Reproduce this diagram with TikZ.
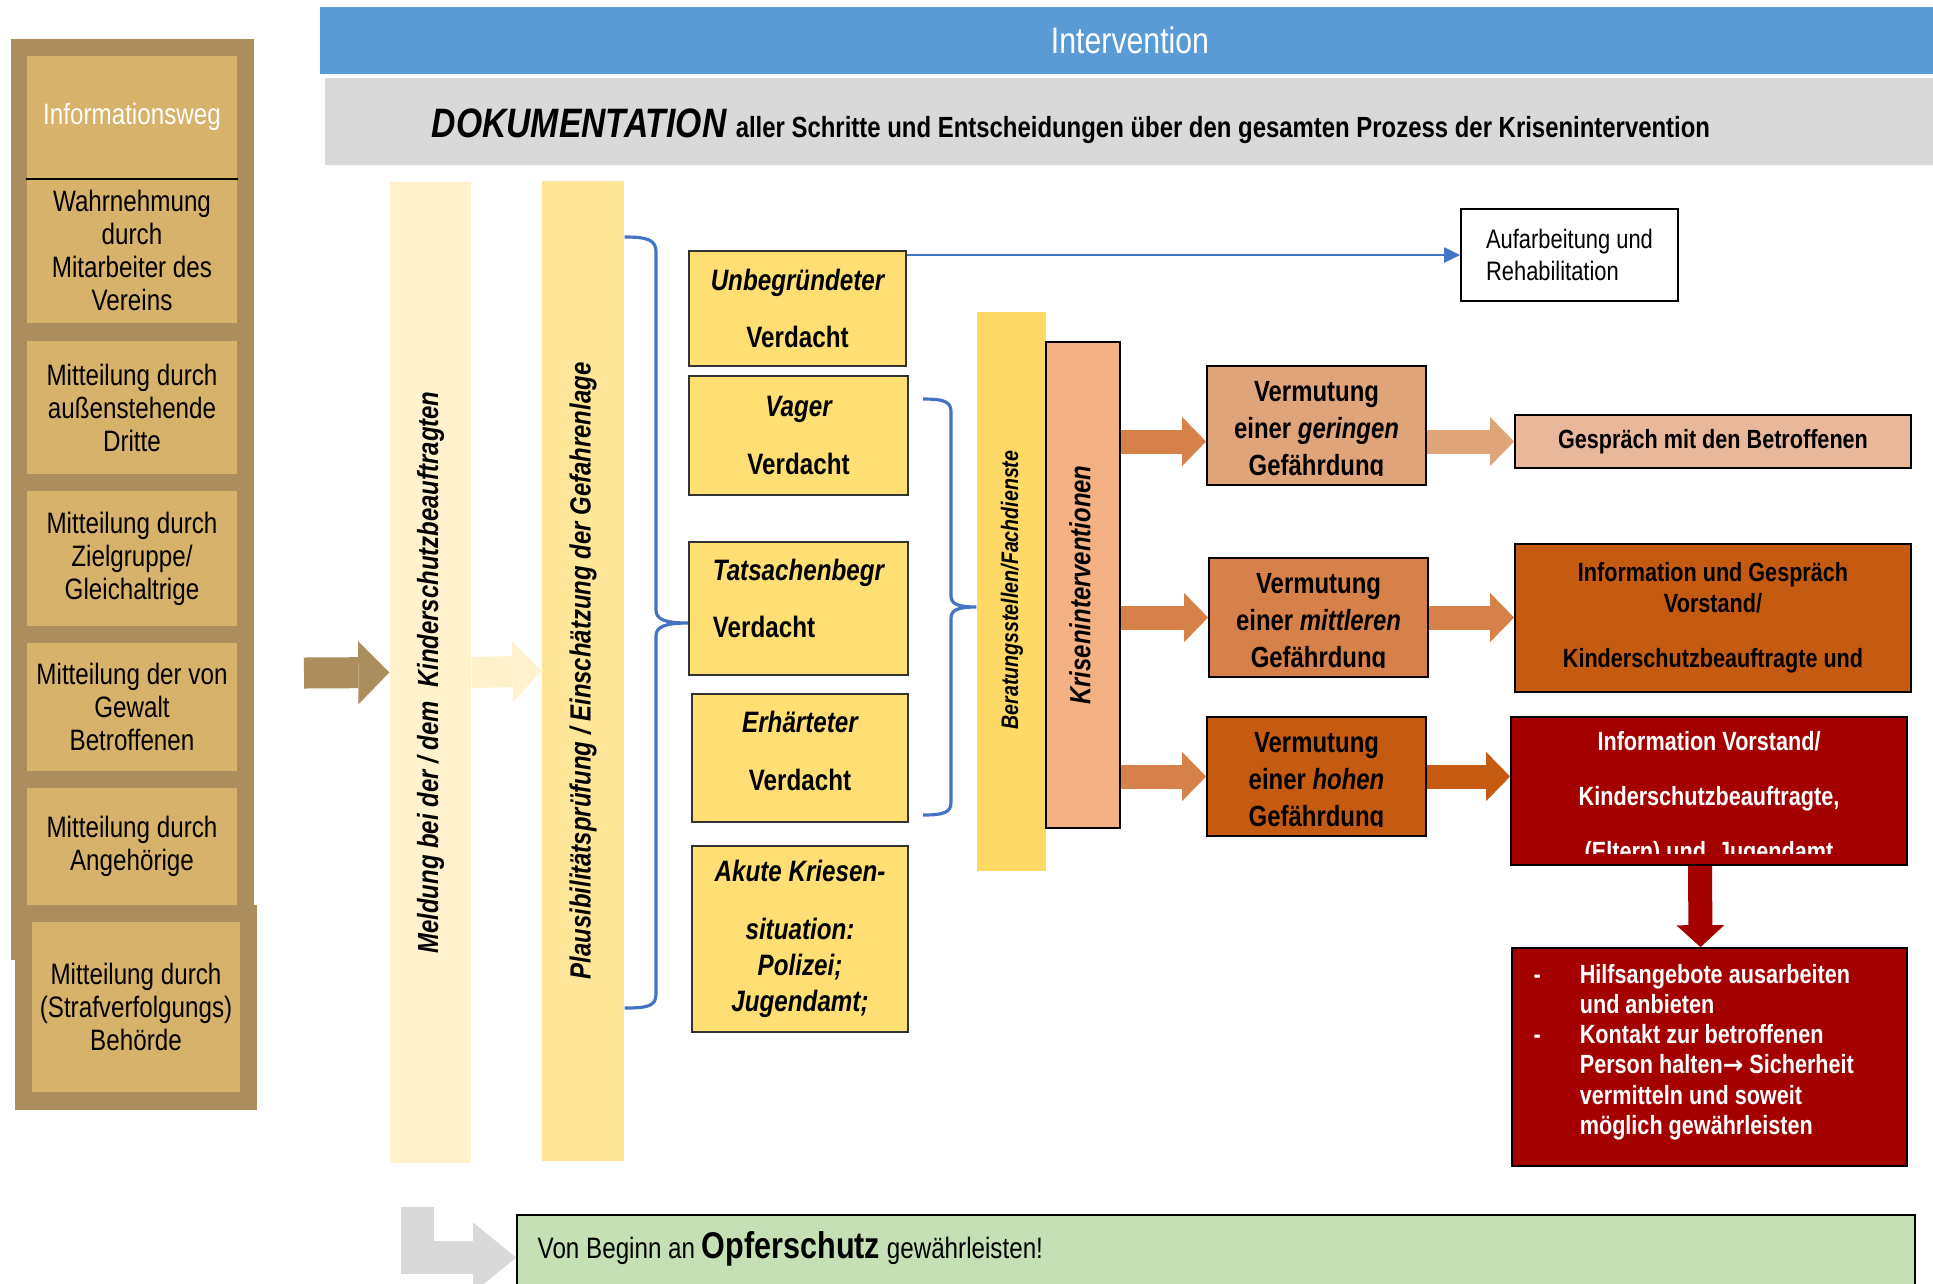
\documentclass[tikz,border=0pt]{standalone}
\usepackage{fontspec}
\setmainfont{Liberation Sans}[FakeStretch=0.82]
\newfontfamily\arrowfont{DejaVu Sans}
\usepackage{xcolor}
\usepackage{tikz}
\usetikzlibrary{arrows.meta}

\definecolor{framebrown}{RGB}{171,141,94}
\definecolor{boxtan}{RGB}{214,178,106}
\definecolor{headblue}{RGB}{91,155,213}
\definecolor{docgrey}{RGB}{217,217,217}
\definecolor{paleyellow}{RGB}{255,242,204}
\definecolor{lightyellow}{RGB}{255,230,153}
\definecolor{suspyellow}{RGB}{255,222,115}
\definecolor{beratyellow}{RGB}{255,217,102}
\definecolor{krisorange}{RGB}{244,177,131}
\definecolor{vermlight}{RGB}{224,164,122}
\definecolor{vermmid}{RGB}{214,128,74}
\definecolor{vermdark}{RGB}{197,90,17}
\definecolor{gesprlight}{RGB}{233,184,154}
\definecolor{darkred}{RGB}{165,0,0}
\definecolor{braceblue}{RGB}{68,114,196}
\definecolor{opfergreen}{RGB}{197,224,180}
\definecolor{arrowgrey}{RGB}{217,217,217}

\newcommand{\srcfont}{\fontsize{8.4}{9.4}\selectfont}
\newcommand{\colfont}{\fontsize{8.3}{10}\selectfont\bfseries\itshape}
\newcommand{\suspfont}{\fontsize{8.4}{10.2}\selectfont\bfseries\itshape}
\newcommand{\vermfont}{\fontsize{8.3}{10.4}\selectfont\bfseries}
\newcommand{\resfont}{\fontsize{7.5}{8.8}\selectfont\bfseries}

\tikzset{
    srcbox/.style={fill=boxtan, inner sep=0pt, align=center, font=\srcfont, minimum width=21mm},
    stripe/.style={inner sep=0pt, minimum width=8.1mm, minimum height=98.1mm},
    stripetext/.style={rotate=90, inner sep=0pt, font=\colfont},
    suspbox/.style={draw=black!80, fill=suspyellow, line width=0.5pt, inner sep=0pt, align=center, font=\suspfont, minimum width=21.7mm},
    vermbox/.style={draw=black, line width=0.5pt, inner sep=0pt, minimum width=21.9mm, minimum height=11.9mm},
    vermtext/.style={inner sep=0pt, align=center, font=\vermfont},
    resbox/.style={draw=black, line width=0.5pt, inner sep=0pt, align=center, font=\resfont, minimum width=39.6mm},
    fatarrow/.style={line width=2.4mm, -{Triangle[length=2.4mm, width=4.9mm, line width=0pt]}},
    thinarrow/.style={draw=braceblue, line width=0.6pt, -{Triangle[length=1.6mm, width=1.5mm]}},
    bracket/.style={draw=braceblue, line width=0.9pt}
}

\begin{document}
\begin{tikzpicture}[x=0.1mm, y=-0.1mm]
    \useasboundingbox (0,0) rectangle (1933,1283);
    \clip (0,0) rectangle (1933,1283);

    \node[fill=headblue, inner sep=0pt, minimum width=162mm, minimum height=6.7mm, text=white, font=\fontsize{10.5}{12}\selectfont] (interv) at (1130,40.5) {Intervention};
    \node[fill=docgrey, inner sep=0pt, minimum width=161.5mm, minimum height=8.7mm] (doku) at (1132.5,121.5) {};
    \node[anchor=base west, inner sep=0pt] (dokutext) at (431,137) {\bfseries\itshape\fontsize{11.7}{13}\selectfont DOKUMENTATION \upshape\fontsize{8.3}{9}\selectfont aller Schritte und Entscheidungen über den gesamten Prozess der Krisenintervention};

    \fill[framebrown] (11,39) rectangle (254,960);
    \node[srcbox, minimum height=12.2mm, text=white] (infohead) at (132,117) {Informationsweg};
    \node[srcbox, minimum height=14.5mm] (src1) at (132,250.5) {Wahrnehmung\\durch\\Mitarbeiter des\\Vereins};
    \draw[line width=0.6pt] (infohead.south west) -- (infohead.south east);
    \node[srcbox, minimum height=13.3mm] (src2) at (132,407.5) {Mitteilung durch\\außenstehende\\Dritte};
    \node[srcbox, minimum height=13.5mm] (src3) at (132,558.5) {Mitteilung durch\\Zielgruppe/\\Gleichaltrige};
    \node[srcbox, minimum height=12.8mm] (src4) at (132,707) {Mitteilung der von\\Gewalt\\Betroffenen};
    \node[srcbox, minimum height=11.7mm] (src5) at (132,846.5) {Mitteilung durch\\Angehörige};
    \fill[framebrown] (15,905) rectangle (257,1110);
    \node[srcbox, minimum width=20.8mm, minimum height=17mm] (src6) at (136,1007) {Mitteilung durch\\(Strafverfolgungs)\\Behörde};

    \node[stripe, fill=paleyellow] (meldung) at (430.5,672.5) {};
    \node[stripe, fill=lightyellow, minimum width=8.2mm, minimum height=98mm] (plausi) at (583,671) {};
    \node[stripetext] (meldungtext) at (meldung.center) {Meldung bei der / dem\ \ Kinderschutzbeauftragten};
    \node[stripetext] (plausitext) at (plausi.center) {Plausibilitätsprüfung / Einschätzung der Gefahrenlage};
    \coordinate (feed) at (304,673);
    \draw[framebrown, line width=3.1mm, -{Triangle[length=3.1mm, width=6.3mm, line width=0pt]}] (feed) -- (meldung.west);
    \draw[paleyellow, line width=3.1mm, -{Triangle[length=2.9mm, width=6.1mm, line width=0pt]}] (meldung.east) -- (plausi.west);

    \node[suspbox, minimum height=11.5mm] (susp1) at (797.5,308.5) {Unbegründeter\\[2.2mm]\upshape Verdacht};
    \node[suspbox, minimum width=21.9mm, minimum height=11.9mm] (susp2) at (798.5,435.5) {Vager\\[2.2mm]\upshape Verdacht};
    \node[suspbox, minimum width=21.9mm, minimum height=13.3mm] (susp3) at (798.5,608.5) {};
    \node[inner sep=0pt, align=left, font=\suspfont] (susp3text) at ([yshift=1mm]susp3.center) {Tatsachenbegr\\[2.2mm]\upshape Verdacht};
    \node[suspbox, minimum width=21.6mm, minimum height=12.8mm] (susp4) at (800,758) {};
    \node[inner sep=0pt, align=center, font=\suspfont] (susp4text) at ([yshift=0.7mm]susp4.center) {Erhärteter\\[2.2mm]\upshape Verdacht};
    \node[suspbox, minimum width=21.6mm, minimum height=18.6mm] (susp5) at (800,939) {Akute Kriesen-\\[2.2mm]situation:\\Polizei;\\Jugendamt;};

    \draw[bracket] (plausi.east |- 0,237) .. controls (648,237) and (656,240) .. (656,252) -- (656,610) .. controls (656,619) and (664,623) .. (susp3.west |- 0,623) .. controls (664,623) and (656,627) .. (656,636) -- (656,994) .. controls (656,1006) and (648,1008) .. (plausi.east |- 0,1008);

    \node[inner sep=0pt, fill=beratyellow, minimum width=6.9mm, minimum height=55.9mm] (berat) at (1011.5,591.5) {};
    \node[inner sep=0pt, fill=krisorange, draw=black, line width=0.5pt, minimum width=7.4mm, minimum height=48.6mm] (kris) at (1083,585) {};
    \node[stripetext, font=\fontsize{6.8}{8}\selectfont\bfseries\itshape] (berattext) at (1012,590) {Beratungsstellen/Fachdienste};
    \node[stripetext] (kristext) at (1080,585) {Kriseninterventionen};

    \coordinate (bracetop) at (923,399);
    \coordinate (bracebot) at (923,815);
    \draw[bracket] (bracetop) .. controls (945,399) and (951,402) .. (951,412) -- (951,596) .. controls (951,604) and (958,607) .. (berat.west |- 0,607) .. controls (958,607) and (951,610) .. (951,618) -- (951,802) .. controls (951,812) and (945,815) .. (bracebot);

    \node[draw=black, line width=0.5pt, inner sep=0pt, minimum width=21.7mm, minimum height=9.2mm, align=left, font=\fontsize{7.6}{9.1}\selectfont] (aufarb) at (1569.5,255) {Aufarbeitung und\\Rehabilitation};
    \draw[thinarrow] (susp1.east |- aufarb.west) -- (aufarb.west);

    \node[vermbox, fill=vermlight] (verm1) at (1316.5,425.5) {};
    \node[vermbox, fill=vermmid] (verm2) at (1318.5,617.5) {};
    \node[vermbox, fill=vermdark] (verm3) at (1316.5,776.5) {};
    \begin{scope}
        \clip (verm1.north west) rectangle ([yshift=1mm]verm1.south east);
        \node[vermtext] (verm1text) at ([yshift=-0.6mm]verm1.center) {Vermutung\\einer \textit{geringen}\\Gefährdung};
    \end{scope}
    \begin{scope}
        \clip (verm2.north west) rectangle ([yshift=1mm]verm2.south east);
        \node[vermtext] (verm2text) at ([yshift=-0.6mm]verm2.center) {Vermutung\\einer \textit{mittleren}\\Gefährdung};
    \end{scope}
    \begin{scope}
        \clip (verm3.north west) rectangle ([yshift=1mm]verm3.south east);
        \node[vermtext] (verm3text) at ([yshift=-0.6mm]verm3.center) {Vermutung\\einer \textit{hohen}\\Gefährdung};
    \end{scope}

    \node[resbox, fill=gesprlight, minimum height=5.3mm] (gespr) at (1713,441.5) {Gespräch mit den Betroffenen};
    \node[resbox, fill=vermdark, minimum height=14.8mm] (infogespr) at (1713,618) {Information und Gespräch\\Vorstand/\\[2.4mm]Kinderschutzbeauftragte und};
    \node[resbox, fill=darkred, minimum height=14.8mm] (redinfo) at (1709,791) {};
    \begin{scope}
        \clip (redinfo.north west) rectangle ([yshift=1.2mm]redinfo.south east);
        \node[inner sep=0pt, align=center, font=\resfont, text=white] (redinfotext) at ([yshift=-0.8mm]redinfo.center) {Information Vorstand/\\[2.4mm]Kinderschutzbeauftragte,\\[2.4mm](Eltern) und\ \ Jugendamt};
    \end{scope}
    \node[resbox, fill=darkred, minimum width=39.5mm, minimum height=21.8mm] (help) at (1709.5,1057) {};
    \node[anchor=west, inner sep=0pt, align=left, text=white, font=\fontsize{7.5}{8.6}\selectfont\bfseries] (helptext) at ([xshift=6.8mm, yshift=0.5mm]help.west) {\llap{-\hspace{3.9mm}}Hilfsangebote ausarbeiten\\und anbieten\\\llap{-\hspace{3.9mm}}Kontakt zur betroffenen\\Person halten{\arrowfont\bfseries\fontsize{7}{8}\selectfont →} Sicherheit\\vermitteln und soweit\\möglich gewährleisten};

    \draw[fatarrow, vermmid] (kris.east |- gespr.west) -- (verm1.west |- gespr.west);
    \draw[fatarrow, vermmid] (kris.east |- verm2.west) -- (verm2.west);
    \draw[fatarrow, vermmid] (kris.east |- verm3.west) -- (verm3.west);
    \draw[fatarrow, vermlight] (verm1.east |- gespr.west) -- (gespr.west);
    \draw[fatarrow, vermmid] (verm2.east) -- (verm2.east -| infogespr.west);
    \draw[fatarrow, vermdark] (verm3.east) -- (verm3.east -| redinfo.west);
    \draw[fatarrow, darkred, -{Triangle[length=2.2mm, width=4.8mm, line width=0pt]}] ([xshift=-0.9mm]redinfo.south) -- ([xshift=-0.9mm]help.north);

    \node[draw=black, line width=0.5pt, fill=opfergreen, inner sep=0pt, minimum width=139.8mm, minimum height=8.5mm] (opfer) at (1216,1257.5) {};
    \node[anchor=base west, inner sep=0pt, font=\fontsize{8.4}{10}\selectfont] (opfertext) at (537,1258) {Von Beginn an {\bfseries\fontsize{10.6}{12}\selectfont Opferschutz} gewährleisten!};
    \coordinate (bendstart) at (417.5,1207);
    \draw[arrowgrey, line width=3.3mm, -{Triangle[length=4.3mm, width=7mm, line width=0pt]}] (bendstart) |- (opfer.west);
\end{tikzpicture}
\end{document}
